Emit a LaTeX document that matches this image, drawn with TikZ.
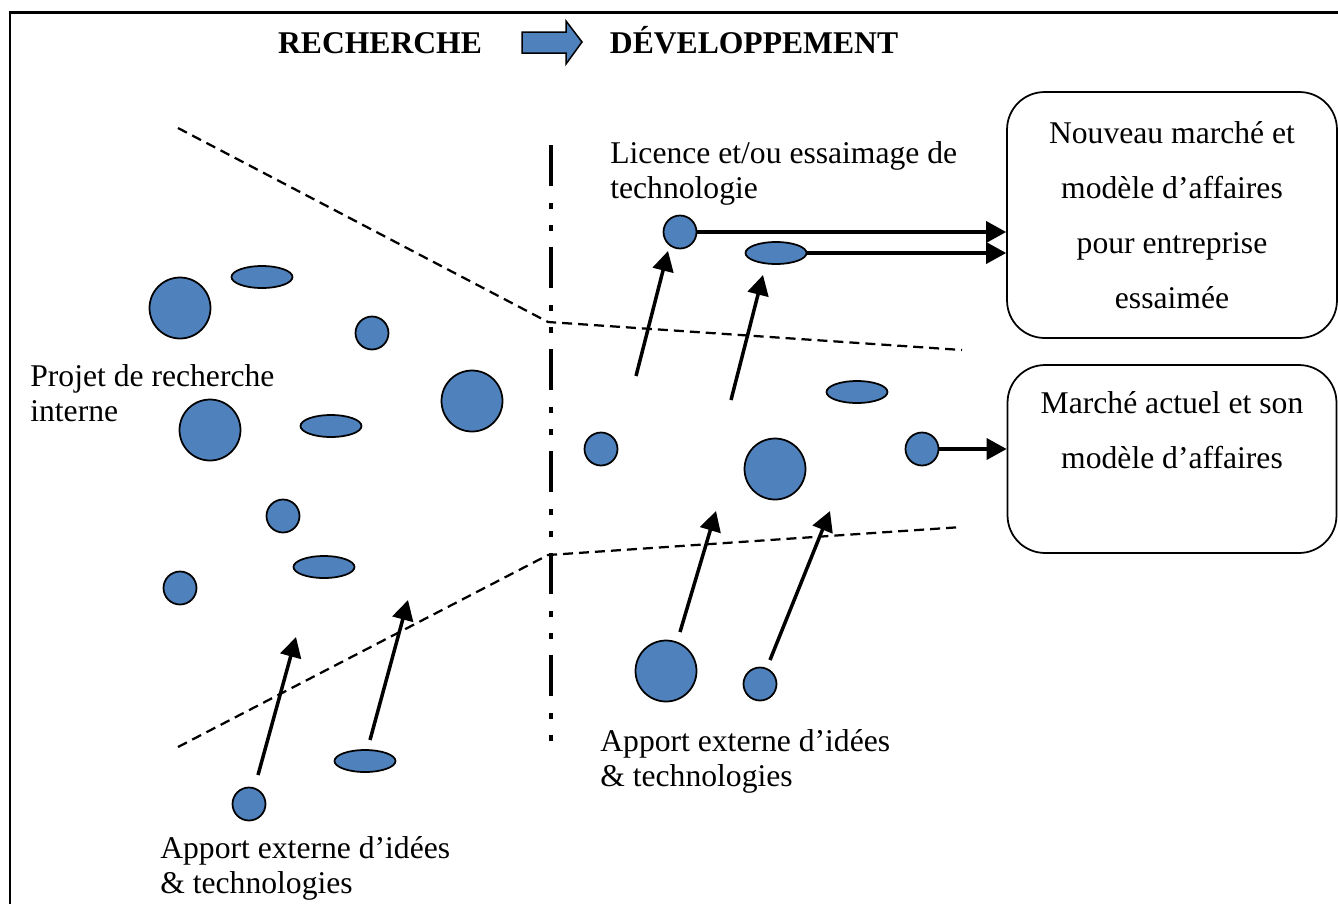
\documentclass[tikz,border=0pt]{standalone}
\usepackage{fontspec}
\setmainfont{Liberation Serif}
\usepackage{tikz}
\usetikzlibrary{shapes,arrows.meta,calc}
\definecolor{blobBlue}{HTML}{4F81BD}
\tikzstyle{tsBlob} = [
    draw=black,
    line width=0.35mm,
    fill=blobBlue,
    inner sep=0pt
]
\tikzstyle{tsBigDot} = [tsBlob, circle, minimum size=1.22cm]
\tikzstyle{tsSmallDot} = [tsBlob, circle, minimum size=0.66cm]
\tikzstyle{tsOval} = [tsBlob, ellipse, minimum width=1.22cm, minimum height=0.44cm]
\tikzstyle{tsText} = [
    text=black,
    font=\fontsize{18}{19.9}\selectfont,
    align=left,
    inner sep=0pt
]
\tikzstyle{tsHead} = [
    text=black,
    font=\fontsize{18}{20}\selectfont\bfseries,
    inner sep=0pt
]
\tikzstyle{tsBox} = [
    rectangle,
    rounded corners=0.75cm,
    draw=black,
    line width=0.35mm,
    text=black,
    font=\fontsize{18}{31.3}\selectfont,
    align=center
]
\tikzstyle{tsArrow} = [
    line width=0.7mm,
    -{Triangle[length=0.4cm,width=0.42cm]}
]
\tikzstyle{tsFunnel} = [line width=0.45mm, dash pattern=on 0.2cm off 0.12cm]

\begin{document}
\begin{tikzpicture}[x=0.02cm, y=-0.02cm]
        \useasboundingbox (0,0) rectangle (1338,903);

        % frame
        \draw[line width=0.6mm] (10,915) -- (10,12) -- (1350,12);

        % header
        \node[tsHead, anchor=base] (rech) at (380,53) {RECHERCHE};
        \node[tsHead, anchor=base] (dev) at (754,53) {DÉVELOPPEMENT};
        \draw[line width=0.3mm, fill=blobBlue] (522,32) -- (566,32) -- (566,21)
            -- (582,42) -- (566,64) -- (566,53) -- (522,53) -- cycle;

        % split line and funnel
        \draw[line width=0.09cm, dash pattern=on 0.82cm off 0.34cm on 0.12cm off 0.32cm on 0.12cm off 0.32cm]
            (551,145) -- (551,742);
        \draw[tsFunnel] (178,128) -- (548,322) -- (962,350);
        \draw[tsFunnel] (178,747) -- (548,555) -- (962,527);

        % research side
        \node[tsBigDot] (rBig1) at (180,308) {};
        \node[tsOval] (rOval1) at (262,277) {};
        \node[tsSmallDot] (rDot1) at (372,333) {};
        \node[tsBigDot] (rBig2) at (472,401) {};
        \node[tsBigDot] (rBig3) at (210,430) {};
        \node[tsOval] (rOval2) at (331,426) {};
        \node[tsSmallDot] (rDot2) at (283,516) {};
        \node[tsOval] (rOval3) at (324,567) {};
        \node[tsSmallDot] (rDot3) at (180,588) {};
        \node[tsOval] (rOval4) at (365,761) {};
        \node[tsSmallDot] (rDot4) at (249,804) {};

        % development side
        \node[tsSmallDot] (dDot1) at (680,232) {};
        \node[tsOval] (dOval1) at (776,253) {};
        \node[tsOval] (dOval2) at (857,392) {};
        \node[tsSmallDot] (dDot2) at (601,449) {};
        \node[tsBigDot] (dBig1) at (775,469) {};
        \node[tsSmallDot] (dDot3) at (922,449) {};
        \node[tsBigDot] (dBig2) at (666,671) {};
        \node[tsSmallDot] (dDot4) at (760,684) {};

        % markets
        \node[tsBox, minimum width=6.6cm, minimum height=4.92cm] (newMkt) at (1172,215)
            {Nouveau marché et\\modèle d’affaires\\pour entreprise\\essaimée};
        \node[tsBox, minimum width=6.58cm, minimum height=3.76cm] (curMkt) at (1172,459) { };
        \node[tsBox, draw=none, inner sep=0pt] (curMktTxt) at (1172,430)
            {Marché actuel et son\\modèle d’affaires};

        \draw[tsArrow] (dDot1.east) -- (dDot1.east -| newMkt.west);
        \draw[tsArrow] (dOval1.east) -- (dOval1.east -| newMkt.west);
        \draw[tsArrow] (dDot3.east) -- (dDot3.east -| curMkt.west);

        % inflows
        \coordinate (a1s) at (258,775);
        \coordinate (a1e) at (296,637);
        \coordinate (a2s) at (370,740);
        \coordinate (a2e) at (408,600);
        \coordinate (a3s) at (636,376);
        \coordinate (a3e) at (668,251);
        \coordinate (a4s) at (731,400);
        \coordinate (a4e) at (763,275);
        \coordinate (a5s) at (680,632);
        \coordinate (a5e) at (716,511);
        \coordinate (a6s) at (770,660);
        \coordinate (a6e) at (830,511);
        \foreach \i in {1,...,6}
            \draw[tsArrow] (a\i s) -- (a\i e);

        % labels
        \node[tsText, anchor=base west] (projLbl) at (30,421) {Projet de recherche\\interne};
        \node[tsText, anchor=base west] (licLbl) at (610,198) {Licence et/ou essaimage de\\technologie};
        \node[tsText, anchor=base west] (extLblR) at (600,786) {Apport externe d’idées\\\& technologies};
        \node[tsText, anchor=base west] (extLblL) at (160,893) {Apport externe d’idées\\\& technologies};

\end{tikzpicture}
\end{document}
